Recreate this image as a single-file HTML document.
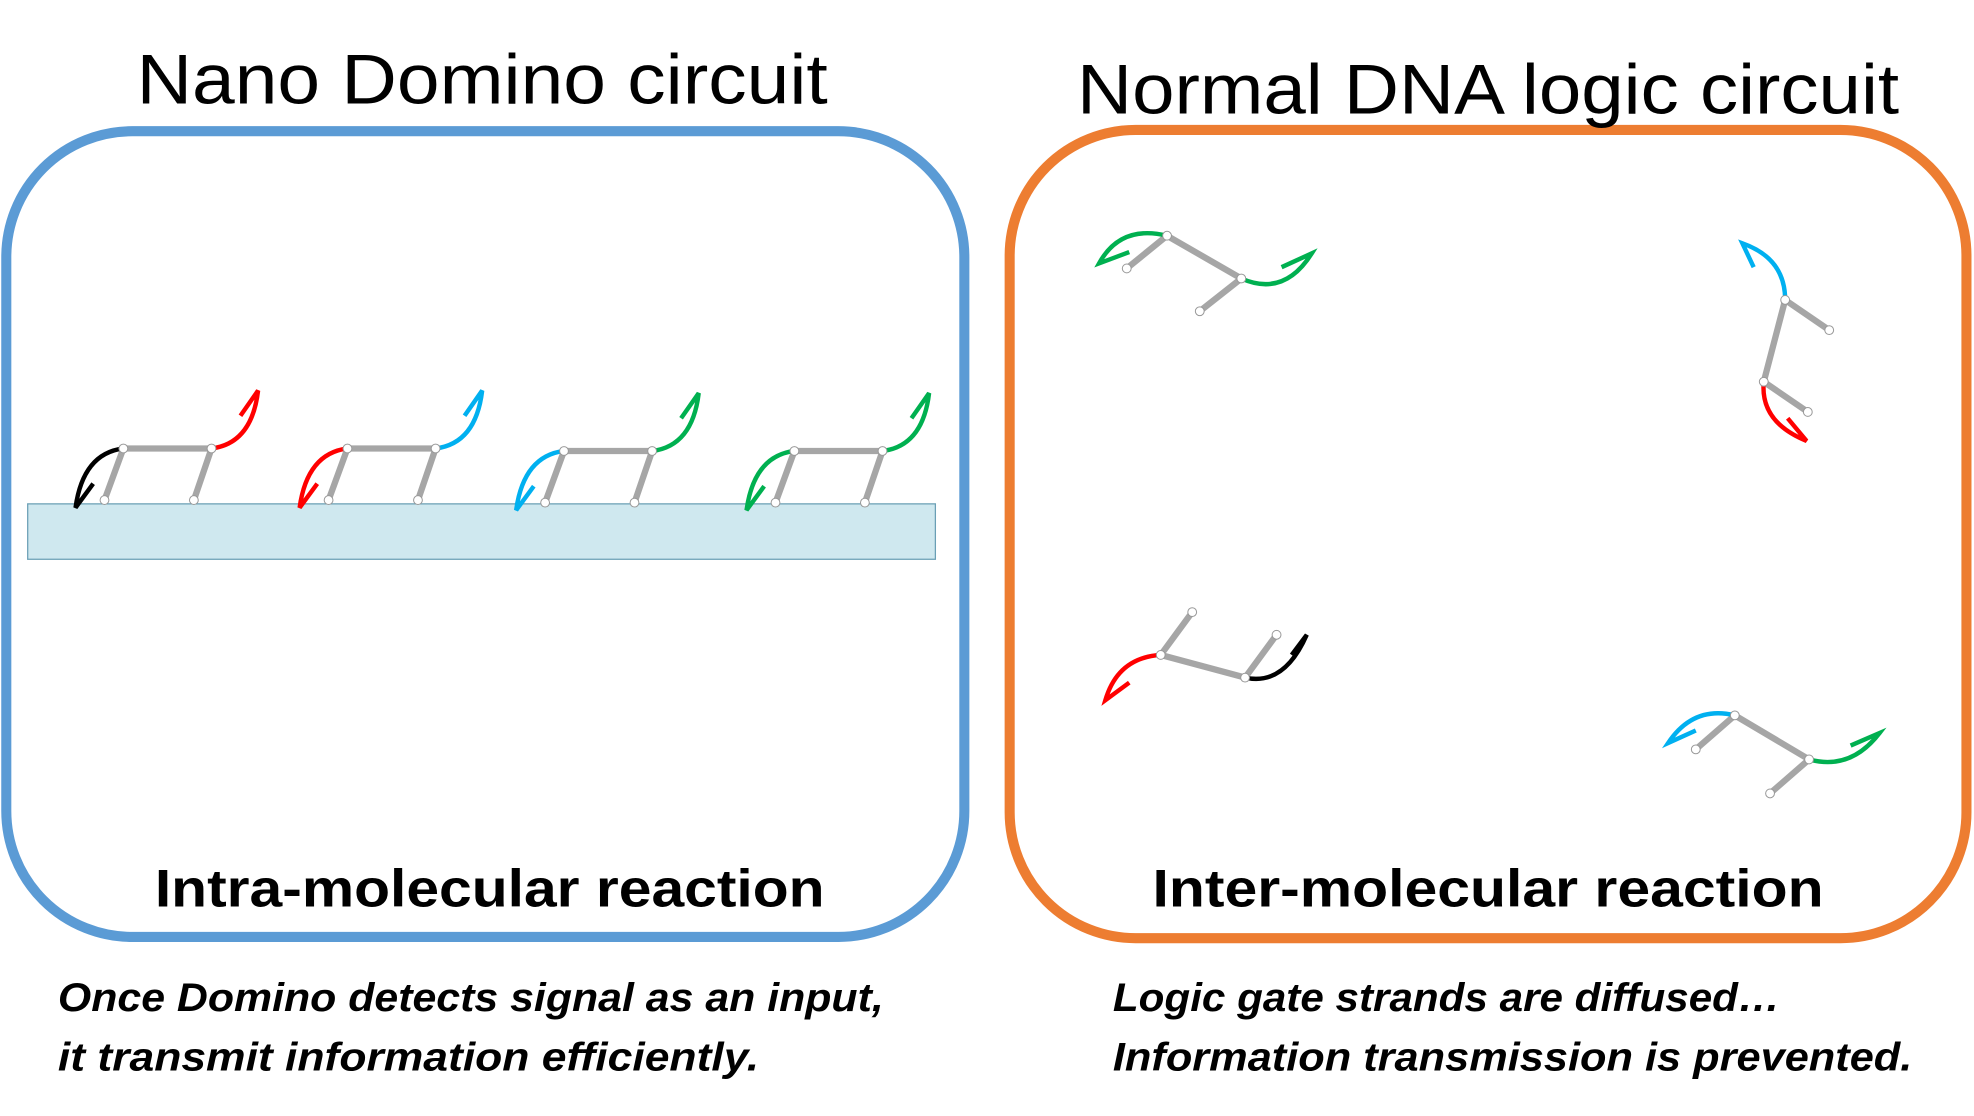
<!DOCTYPE html>
<html><head><meta charset="utf-8"><style>html,body{margin:0;padding:0;background:#fff}svg{display:block}</style></head>
<body>
<svg width="1974" height="1116" viewBox="0 0 1568 886" xmlns="http://www.w3.org/2000/svg" font-family="Liberation Sans, sans-serif">
<defs>
<g id="dom">
  <path d="M98,356 L168,356 M98,356 L83,397 M168,356 L154,397" stroke="#a6a6a6" stroke-width="5" fill="none"/>
</g>
</defs>
<rect x="5" y="104" width="761" height="640" rx="100" fill="none" stroke="#5b9bd5" stroke-width="8"/>
<rect x="802" y="103" width="760" height="642" rx="100" fill="none" stroke="#ed7d31" stroke-width="8"/>
<text x="383" y="82" font-size="56" text-anchor="middle" textLength="549" lengthAdjust="spacingAndGlyphs">Nano Domino circuit</text>
<text x="1182" y="90" font-size="56" text-anchor="middle" textLength="653" lengthAdjust="spacingAndGlyphs">Normal DNA logic circuit</text>
<text x="389" y="720" font-size="42" font-weight="bold" text-anchor="middle" textLength="532" lengthAdjust="spacingAndGlyphs">Intra-molecular reaction</text>
<text x="1182" y="720" font-size="42" font-weight="bold" text-anchor="middle" textLength="533" lengthAdjust="spacingAndGlyphs">Inter-molecular reaction</text>
<g font-size="32" font-weight="bold" font-style="italic">
<text x="46" y="803" textLength="656" lengthAdjust="spacingAndGlyphs">Once Domino detects signal as an input,</text>
<text x="46" y="850" textLength="557" lengthAdjust="spacingAndGlyphs">it transmit information efficiently.</text>
<text x="884" y="803" textLength="530" lengthAdjust="spacingAndGlyphs">Logic gate strands are diffused…</text>
<text x="884" y="850" textLength="635" lengthAdjust="spacingAndGlyphs">Information transmission is prevented.</text>
</g>
<rect x="22" y="400" width="721" height="44" fill="#cfe8ef" stroke="#6a9fb5" stroke-width="1"/>
<g fill="none" stroke-width="3.5" stroke-linecap="butt">
<!-- unit 1 -->
<g>
<use href="#dom"/>
<path d="M98,356 Q66,360 60,403 L74,384" stroke="#000"/>
<path d="M168,356 Q200,352 205,310 L191,330" stroke="#ff0000"/>
</g>
<g transform="translate(178,0)">
<use href="#dom"/>
<path d="M98,356 Q66,360 60,403 L74,384" stroke="#ff0000"/>
<path d="M168,356 Q200,352 205,310 L191,330" stroke="#00b0f0"/>
</g>
<g transform="translate(350,2)">
<use href="#dom"/>
<path d="M98,356 Q66,360 60,403 L74,384" stroke="#00b0f0"/>
<path d="M168,356 Q200,352 205,310 L191,330" stroke="#00b050"/>
</g>
<g transform="translate(533,2)">
<use href="#dom"/>
<path d="M98,356 Q66,360 60,403 L74,384" stroke="#00b050"/>
<path d="M168,356 Q200,352 205,310 L191,330" stroke="#00b050"/>
</g>
<!-- right panel -->
<path d="M927,187 L986,221 M927,187 L895,213 M986,221 L953,247" stroke="#a6a6a6" stroke-width="5"/>
<path d="M927,187 Q890,178 873,209 L897,200" stroke="#00b050"/>
<path d="M986,221 Q1020,236 1042,201 L1018,212" stroke="#00b050"/>
<path d="M1418,238 L1401,303 M1418,238 L1453,262 M1401,303 L1436,327" stroke="#a6a6a6" stroke-width="5"/>
<path d="M1418,238 Q1418,205 1384,193 L1393,212" stroke="#00b0f0"/>
<path d="M1401,303 Q1398,335 1435,350 L1420,332" stroke="#ff0000"/>
<path d="M922,520 L989,538 M922,520 L947,486 M989,538 L1014,504" stroke="#a6a6a6" stroke-width="5"/>
<path d="M922,520 Q888,522 878,556 L897,542" stroke="#ff0000"/>
<path d="M989,538 Q1020,545 1038,504 L1026,520" stroke="#000"/>
<path d="M1378,568 L1437,603 M1378,568 L1347,595 M1437,603 L1406,630" stroke="#a6a6a6" stroke-width="5"/>
<path d="M1378,568 Q1345,560 1325,590 L1347,580" stroke="#00b0f0"/>
<path d="M1437,603 Q1470,612 1493,582 L1470,592" stroke="#00b050"/>
</g>
<g fill="#fff" stroke="#999" stroke-width="0.8">
<circle cx="98" cy="356" r="3.5"/><circle cx="168" cy="356" r="3.5"/><circle cx="83" cy="397" r="3.5"/><circle cx="154" cy="397" r="3.5"/>
<circle cx="276" cy="356" r="3.5"/><circle cx="346" cy="356" r="3.5"/><circle cx="261" cy="397" r="3.5"/><circle cx="332" cy="397" r="3.5"/>
<circle cx="448" cy="358" r="3.5"/><circle cx="518" cy="358" r="3.5"/><circle cx="433" cy="399" r="3.5"/><circle cx="504" cy="399" r="3.5"/>
<circle cx="631" cy="358" r="3.5"/><circle cx="701" cy="358" r="3.5"/><circle cx="616" cy="399" r="3.5"/><circle cx="687" cy="399" r="3.5"/>
<circle cx="927" cy="187" r="3.5"/><circle cx="986" cy="221" r="3.5"/><circle cx="895" cy="213" r="3.5"/><circle cx="953" cy="247" r="3.5"/>
<circle cx="1418" cy="238" r="3.5"/><circle cx="1401" cy="303" r="3.5"/><circle cx="1453" cy="262" r="3.5"/><circle cx="1436" cy="327" r="3.5"/>
<circle cx="922" cy="520" r="3.5"/><circle cx="989" cy="538" r="3.5"/><circle cx="947" cy="486" r="3.5"/><circle cx="1014" cy="504" r="3.5"/>
<circle cx="1378" cy="568" r="3.5"/><circle cx="1437" cy="603" r="3.5"/><circle cx="1347" cy="595" r="3.5"/><circle cx="1406" cy="630" r="3.5"/>
</g>
</svg>
</body></html>
